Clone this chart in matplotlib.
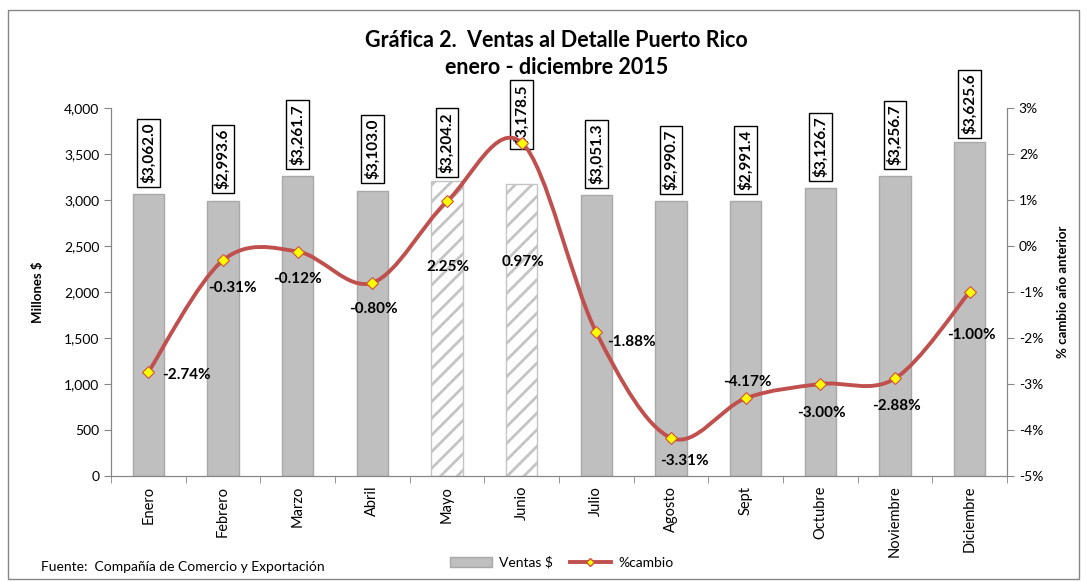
import matplotlib
matplotlib.use('Agg')
from matplotlib import pyplot as plt
from matplotlib.path import Path
from matplotlib.patches import PathPatch, Patch, Rectangle
from matplotlib.lines import Line2D
from matplotlib.ticker import FuncFormatter, FixedLocator

plt.rcParams['font.family'] = ['Lato', 'DejaVu Sans']
plt.rcParams['hatch.color'] = '#C4C4C4'
plt.rcParams['hatch.linewidth'] = 2.0

meses = ['Enero', 'Febrero', 'Marzo', 'Abril', 'Mayo', 'Junio', 'Julio',
         'Agosto', 'Sept', 'Octubre', 'Noviembre', 'Diciembre']
ventas = [3062.0, 2993.6, 3261.7, 3103.0, 3204.2, 3178.5, 3051.3,
          2990.7, 2991.4, 3126.7, 3256.7, 3625.6]
cambio = [-2.74, -0.31, -0.12, -0.80, 0.97, 2.25, -1.88,
          -4.17, -3.31, -3.00, -2.88, -1.00]
# etiquetas tal como aparecen en la grafica original
cambio_txt = ['-2.74%', '-0.31%', '-0.12%', '-0.80%', '2.25%', '0.97%', '-1.88%',
              '-3.31%', '-4.17%', '-3.00%', '-2.88%', '-1.00%']
rayados = [4, 5]

# desplazamientos de las etiquetas (puntos)
lbl_off = [(10, -2, 'left'), (7, -20, 'center'), (0, -20, 'center'), (1, -19, 'center'),
           (1, -47, 'center'), (1, -86, 'center'), (8, -7, 'left'), (10, -17, 'center'),
           (1, 12, 'center'), (1, -21, 'center'), (1, -20, 'center'), (1, -31, 'center')]
box_off = [8, 8, 8, 8, 6, 28, 8, 8, 8, 8, 8, 6]

fig = plt.figure(figsize=(10.87, 5.81), dpi=100)
ax = fig.add_axes([0.1021, 0.1807, 0.8243, 0.6334])
ax2 = ax.twinx()

x = list(range(len(meses)))
for i in x:
    if i in rayados:
        ax.bar(i, ventas[i], width=0.42, color='white', edgecolor='#C4C4C4',
               hatch='//', linewidth=1.0, zorder=2)
    else:
        ax.bar(i, ventas[i], width=0.42, color='#BFBFBF', edgecolor='#A8A8A8',
               linewidth=1.0, zorder=2)

for i in x:
    ax.annotate(f'${ventas[i]:,.1f}', (i, ventas[i]), xytext=(0, box_off[i]),
                textcoords='offset points', rotation=90, ha='center', va='bottom',
                fontsize=11, fontweight='bold',
                bbox=dict(boxstyle='square,pad=0.25', fc='white', ec='black', lw=1.0),
                zorder=5)

ax.set_xlim(-0.5, 11.5)
ax.set_ylim(0, 4000)
ax.set_yticks(range(0, 4001, 500))
ax.yaxis.set_major_formatter(FuncFormatter(lambda v, p: f'{v:,.0f}'))
ax.set_xticks(x)
ax.set_xticklabels(meses, rotation=90, fontsize=10.5)
ax.xaxis.set_minor_locator(FixedLocator([k - 0.5 for k in range(13)]))
ax.tick_params(axis='x', which='major', length=0, pad=7)
ax.tick_params(axis='x', which='minor', length=5, color='#868686')
ax.tick_params(axis='y', length=5, color='#868686', labelsize=10)
ax.set_ylabel('Millones $', fontsize=9.5, fontweight='bold', labelpad=14)

ax2.set_ylim(-5, 3)
ax2.set_yticks(range(-5, 4))
ax2.yaxis.set_major_formatter(FuncFormatter(lambda v, p: f'{v:.0f}%'))
ax2.tick_params(axis='y', length=5, color='#868686', labelsize=10)
ax2.set_ylabel('% cambio año anterior', fontsize=9.5, fontweight='bold', labelpad=10)

for a in (ax, ax2):
    a.spines['top'].set_visible(False)
    for s in ('left', 'right', 'bottom'):
        a.spines[s].set_color('#868686')

# linea suavizada (bezier tipo catmull-rom)
pts = list(zip(x, cambio))
verts = [pts[0]]
codes = [Path.MOVETO]
n = len(pts)
for i in range(n - 1):
    p0 = pts[max(i - 1, 0)]
    p1 = pts[i]
    p2 = pts[i + 1]
    p3 = pts[min(i + 2, n - 1)]
    c1 = (p1[0] + (p2[0] - p0[0]) / 6, p1[1] + (p2[1] - p0[1]) / 6)
    c2 = (p2[0] - (p3[0] - p1[0]) / 6, p2[1] - (p3[1] - p1[1]) / 6)
    verts += [c1, c2, p2]
    codes += [Path.CURVE4] * 3
ax2.add_patch(PathPatch(Path(verts, codes), fill=False, edgecolor='#C0504D',
                        linewidth=2.8, zorder=3, capstyle='round'))
ax2.plot(x, cambio, linestyle='none', marker='D', markersize=6.5,
         markerfacecolor='#FFFF00', markeredgecolor='#D05040', markeredgewidth=0.8,
         zorder=4)

for i in x:
    dx, dy, ha = lbl_off[i]
    ax2.annotate(cambio_txt[i], (i, cambio[i]), xytext=(dx, dy), textcoords='offset points',
                 ha=ha, va='center', fontsize=11, fontweight='bold', zorder=5)

fig.text(0.512, 0.931, 'Gráfica 2.  Ventas al Detalle Puerto Rico', ha='center',
         va='center', fontsize=15.5, fontweight='bold')
fig.text(0.512, 0.883, 'enero - diciembre 2015', ha='center', va='center',
         fontsize=15.5, fontweight='bold')
fig.text(0.038, 0.024, 'Fuente:  Compañía de Comercio y Exportación', fontsize=10,
         va='center')

handles = [Patch(facecolor='#BFBFBF', edgecolor='#A8A8A8'),
           Line2D([], [], color='#C0504D', linewidth=2.8, marker='D', markersize=4,
                  markerfacecolor='#FFFF00', markeredgecolor='#D05040')]
fig.legend(handles, ['Ventas $', '%cambio'], loc='center', bbox_to_anchor=(0.517, 0.032),
           ncol=2, frameon=False, fontsize=10, handlelength=3, columnspacing=1.2,
           handletextpad=0.5)

fig.add_artist(Rectangle((0.007, 0.004), 0.986, 0.979, transform=fig.transFigure,
                         fill=False, edgecolor='#868686', linewidth=1.0))

fig.savefig('out.png', dpi=100)
